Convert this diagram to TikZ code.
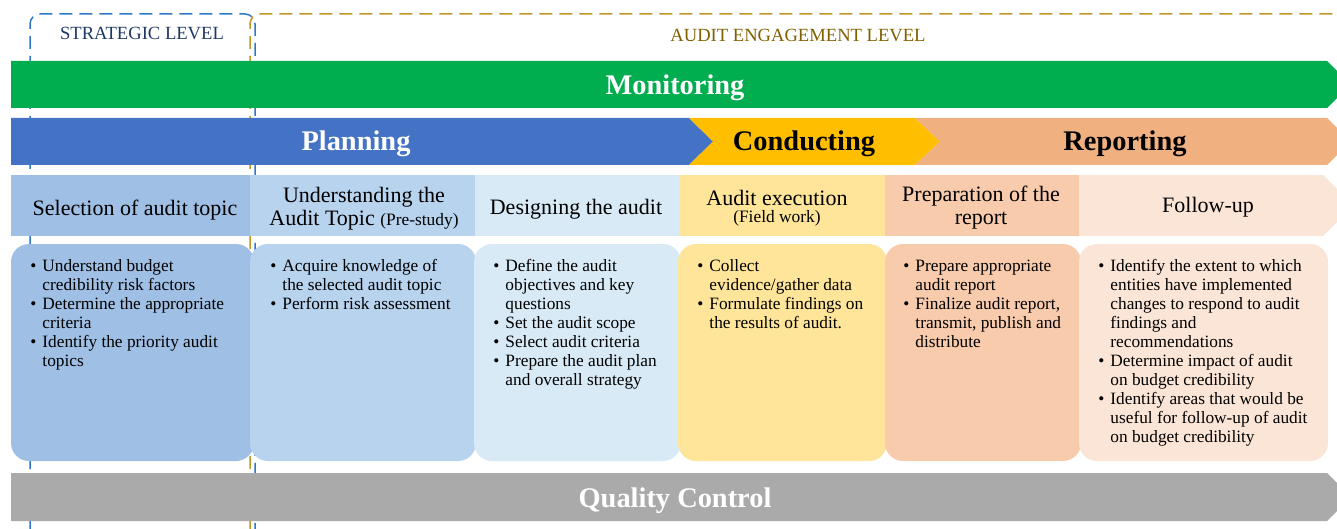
\documentclass[tikz,border=0pt]{standalone}
\usepackage{fontspec}
\setmainfont{Liberation Serif}
\definecolor{stratblue}{RGB}{46,120,200}
\definecolor{stratnavy}{RGB}{31,56,100}
\definecolor{engold}{RGB}{191,150,40}
\definecolor{engbrown}{RGB}{127,96,0}
\definecolor{mongreen}{RGB}{0,173,79}
\definecolor{planblue}{RGB}{68,114,196}
\definecolor{condyellow}{RGB}{255,190,0}
\definecolor{reporange}{RGB}{240,176,128}
\definecolor{qcgray}{RGB}{170,170,170}
\definecolor{selcol}{RGB}{159,191,228}
\definecolor{undcol}{RGB}{184,211,238}
\definecolor{descol}{RGB}{216,234,245}
\definecolor{execol}{RGB}{255,229,153}
\definecolor{prepcol}{RGB}{248,203,173}
\definecolor{folcol}{RGB}{251,229,214}
\begin{document}
\begin{tikzpicture}[x=0.5pt, y=-0.5pt, line join=round,
    frame/.style={line width=0.75pt, dash pattern=on 6.5pt off 3.5pt, rounded corners=5pt},
    lvl/.style={anchor=base, inner sep=0pt, font=\fontsize{9.3}{11}\selectfont},
    bandtxt/.style={anchor=base, inner sep=0pt, font=\fontsize{14.2}{16}\selectfont\bfseries},
    headtxt/.style={align=center, inner sep=0pt, font=\fontsize{11}{11.5}\selectfont},
    bodytxt/.style={anchor=north west, inner sep=0pt, font=\fontsize{8.65}{9.5}\selectfont},
    box/.style={rounded corners=9pt}]
\useasboundingbox (0,0) rectangle (1337,529);
% level frames
\draw[frame, stratblue] (30,529) -- (30,14) -- (255,14) -- (255,529);
\draw[frame, engold] (250,529) -- (250,14) -- (1337,14);
\node[lvl, text=stratnavy] (strat) at (142,40) {STRATEGIC LEVEL};
\node[lvl, text=engbrown] (eng) at (798,41.5) {AUDIT ENGAGEMENT LEVEL};
% monitoring
\fill[mongreen] (11,61) -- (1327,61) -- (1337,71) -- (1337,98) -- (1327,108) -- (11,108) -- cycle;
\node[bandtxt, white] (mon) at (675,95) {Monitoring};
% phases
\fill[planblue] (11,118) -- (689,118) -- (713,141.5) -- (689,165) -- (11,165) -- cycle;
\fill[condyellow] (689,118) -- (915,118) -- (940,141.5) -- (915,165) -- (689,165) -- (713,141.5) -- cycle;
\fill[reporange] (915,118) -- (1327,118) -- (1337,128) -- (1337,155) -- (1327,165) -- (915,165) -- (940,141.5) -- cycle;
\node[bandtxt, white] (plan) at (356,151) {Planning};
\node[bandtxt] (cond) at (804,151) {Conducting};
\node[bandtxt] (rep) at (1125,151) {Reporting};
% step headers
\fill[selcol] (11,175) rectangle (250,236);
\fill[undcol] (250,175) rectangle (475,236);
\fill[descol] (475,175) rectangle (679,236);
\fill[execol] (679,175) rectangle (885,236);
\fill[prepcol] (885,175) rectangle (1079,236);
\fill[folcol] (1079,175) -- (1323,175) -- (1337,189) -- (1337,222) -- (1323,236) -- (1079,236) -- cycle;
\node[headtxt, anchor=base] (sel) at (135,215) {Selection of audit topic};
\node[headtxt] (und) at (364,209) {Understanding the\\Audit Topic {\fontsize{8.7}{9}\selectfont(Pre-study)}};
\node[headtxt, anchor=base] (des) at (576,214) {Designing the audit};
\node[headtxt] (exe) at (777,208) {Audit execution\\[-3pt]{\fontsize{8.7}{9}\selectfont(Field work)}};
\node[headtxt] (prep) at (981,208) {Preparation of the\\report};
\node[headtxt, anchor=base] (fol) at (1208,213) {Follow-up};
% step contents
\fill[box, selcol] (11,244) rectangle (254,461);
\fill[box, undcol] (250,244) rectangle (476,461);
\fill[box, descol] (474,244) rectangle (681,461);
\fill[box, execol] (678,244) rectangle (887,461);
\fill[box, prepcol] (885,244) rectangle (1081,461);
\fill[box, folcol] (1079,244) rectangle (1328,461);
\node[bodytxt] (selb) at (30,257.5) {\begin{tabular}{@{}l@{\hspace{3pt}}l@{}}
  \textbullet & Understand budget\\ & credibility risk factors\\
  \textbullet & Determine the appropriate\\ & criteria\\
  \textbullet & Identify the priority audit\\ & topics
\end{tabular}};
\node[bodytxt] (undb) at (270,257.5) {\begin{tabular}{@{}l@{\hspace{3pt}}l@{}}
  \textbullet & Acquire knowledge of\\ & the selected audit topic\\
  \textbullet & Perform risk assessment
\end{tabular}};
\node[bodytxt] (desb) at (493,257.5) {\begin{tabular}{@{}l@{\hspace{3pt}}l@{}}
  \textbullet & Define the audit\\ & objectives and key\\ & questions\\
  \textbullet & Set the audit scope\\
  \textbullet & Select audit criteria\\
  \textbullet & Prepare the audit plan\\ & and overall strategy
\end{tabular}};
\node[bodytxt] (exeb) at (697,257.5) {\begin{tabular}{@{}l@{\hspace{3pt}}l@{}}
  \textbullet & Collect\\ & evidence/gather data\\
  \textbullet & Formulate findings on\\ & the results of audit.
\end{tabular}};
\node[bodytxt] (prepb) at (903,257.5) {\begin{tabular}{@{}l@{\hspace{3pt}}l@{}}
  \textbullet & Prepare appropriate\\ & audit report\\
  \textbullet & Finalize audit report,\\ & transmit, publish and\\ & distribute
\end{tabular}};
\node[bodytxt] (folb) at (1098,257.5) {\begin{tabular}{@{}l@{\hspace{3pt}}l@{}}
  \textbullet & Identify the extent to which\\ & entities have implemented\\ & changes to respond to audit\\ & findings and\\ & recommendations\\
  \textbullet & Determine impact of audit\\ & on budget credibility\\
  \textbullet & Identify areas that would be\\ & useful for follow-up of audit\\ & on budget credibility
\end{tabular}};
% quality control
\fill[qcgray] (11,473) -- (1327,473) -- (1337,483) -- (1337,511) -- (1327,521) -- (11,521) -- cycle;
\node[bandtxt, white] (qc) at (675,507) {Quality Control};
\end{tikzpicture}
\end{document}
